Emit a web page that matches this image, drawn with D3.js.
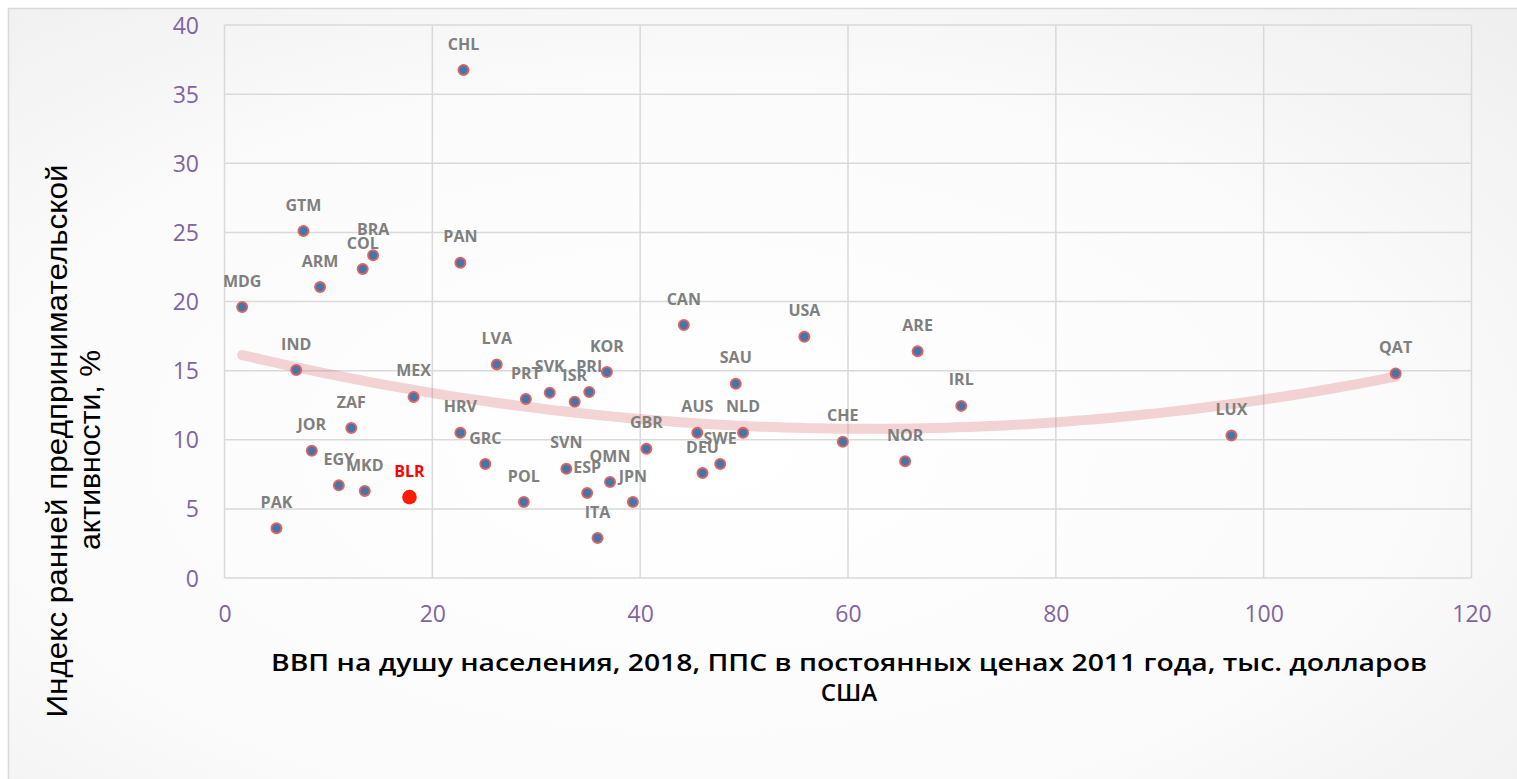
<!DOCTYPE html>
<html>
<head>
<meta charset="utf-8">
<script src="https://cdn.jsdelivr.net/npm/d3@7"></script>
<style>
  html, body { margin: 0; padding: 0; background: #ffffff; }
  svg { display: block; }
</style>
</head>
<body>
<svg id="chart" width="1517" height="779"></svg>
<script>
// ---- data ----
const countries = ["MDG","PAK","IND","GTM","JOR","ARM","EGY","ZAF","COL","MKD","BRA","BLR","MEX","HRV","PAN","CHL","GRC","LVA","POL","PRT","SVK","SVN","ISR","ESP","PRI","ITA","KOR","OMN","JPN","GBR","CAN","AUS","DEU","SWE","SAU","NLD","USA","CHE","NOR","ARE","IRL","LUX","QAT"];
const gdp = [1.7,5.0,6.9,7.6,8.4,9.2,11.0,12.2,13.3,13.5,14.3,17.8,18.2,22.7,22.7,23.0,25.1,26.2,28.8,29.0,31.3,32.9,33.7,34.9,35.1,35.9,36.8,37.1,39.3,40.6,44.2,45.5,46.0,47.7,49.2,49.9,55.8,59.5,65.5,66.7,70.9,96.9,112.7];
const tea = [19.6,3.6,15.05,25.1,9.2,21.05,6.7,10.85,22.35,6.3,23.35,5.85,13.1,10.5,22.8,36.75,8.25,15.45,5.5,12.95,13.4,7.9,12.75,6.15,13.45,2.9,14.9,6.95,5.5,9.35,18.3,10.5,7.6,8.25,14.05,10.5,17.45,9.85,8.45,16.4,12.45,10.3,14.8];
const highlight = "BLR";
const xTicks = [0,20,40,60,80,100,120];
const yTicks = [0,5,10,15,20,25,30,35,40];
const xTitleLines = ["ВВП на душу населения, 2018, ППС в постоянных ценах 2011 года, тыс. долларов", "США"];
const yTitleLines = ["Индекс ранней предпринимательской", "активности, %"];

// ---- layout ----
const svg = d3.select("#chart");
const plot = {left: 224.5, right: 1471.5, top: 25, bottom: 578};
const x = d3.scaleLinear().domain([0,120]).range([plot.left, plot.right]);
const y = d3.scaleLinear().domain([0,40]).range([plot.bottom, plot.top]);

const defs = svg.append("defs");
const rg = defs.append("radialGradient").attr("id","bg").attr("cx","45%").attr("cy","55%").attr("r","75%");
rg.append("stop").attr("offset","0%").attr("stop-color","#ffffff");
rg.append("stop").attr("offset","60%").attr("stop-color","#fbfbfb");
rg.append("stop").attr("offset","100%").attr("stop-color","#efefef");

svg.append("rect").attr("x",8.5).attr("y",8.5).attr("width",1530).attr("height",800)
  .attr("fill","url(#bg)").attr("stroke","#d9d9d9").attr("stroke-width",1.5);

// gridlines
const grid = svg.append("g");
grid.selectAll(".gy").data(yTicks).join("line")
  .attr("x1",plot.left).attr("x2",plot.right)
  .attr("y1",d=>y(d)).attr("y2",d=>y(d))
  .attr("stroke","#d9d9d9").attr("stroke-width",1.5);
grid.selectAll(".gx").data(xTicks).join("line")
  .attr("x1",d=>x(d)).attr("x2",d=>x(d))
  .attr("y1",plot.top).attr("y2",plot.bottom)
  .attr("stroke","#d9d9d9").attr("stroke-width",1.5);

// axes (labels only)
const yAxis = d3.axisLeft(y).tickValues(yTicks).tickSize(0).tickPadding(0);
const gy = svg.append("g").attr("transform",`translate(199,0)`).call(yAxis);
gy.select(".domain").remove();
gy.selectAll("text").attr("font-family","'Open Sans', sans-serif").attr("font-size",23)
  .attr("fill","#8064a2").attr("dy","0.35em").attr("x",0);

const xAxis = d3.axisBottom(x).tickValues(xTicks).tickSize(0).tickPadding(0);
const gx = svg.append("g").attr("transform",`translate(0,614)`).call(xAxis);
gx.select(".domain").remove();
gx.selectAll("text").attr("font-family","'Open Sans', sans-serif").attr("font-size",23)
  .attr("fill","#8064a2").attr("dy","0.35em").attr("y",0);

// quadratic trend (least squares)
function polyfit2(xs, ys){
  let S=[0,0,0,0,0], T=[0,0,0];
  xs.forEach((xv,i)=>{ let p=1; for(let k=0;k<5;k++){S[k]+=p; if(k<3) T[k]+=p*ys[i]; p*=xv;} });
  const A=[[S[0],S[1],S[2],T[0]],[S[1],S[2],S[3],T[1]],[S[2],S[3],S[4],T[2]]];
  for(let i=0;i<3;i++){ for(let j=i+1;j<3;j++){ const f=A[j][i]/A[i][i]; for(let k=i;k<4;k++) A[j][k]-=f*A[i][k]; } }
  const c=[0,0,0];
  for(let i=2;i>=0;i--){ let s=A[i][3]; for(let k=i+1;k<3;k++) s-=A[i][k]*c[k]; c[i]=s/A[i][i]; }
  return c;
}
const coef = polyfit2(gdp, tea);
const xmin = d3.min(gdp), xmax = d3.max(gdp);
const trend = d3.range(0,101).map(i=>{ const xv = xmin + (xmax-xmin)*i/100; return [xv, coef[0]+coef[1]*xv+coef[2]*xv*xv]; });
svg.append("path").datum(trend)
  .attr("d", d3.line().x(d=>x(d[0])).y(d=>y(d[1])).curve(d3.curveLinear))
  .attr("fill","none").attr("stroke","rgb(215,100,100)").attr("stroke-opacity",0.28)
  .attr("stroke-width",10).attr("stroke-linecap","round").attr("stroke-linejoin","round");

// points
const pts = countries.map((c,i)=>({c, gx: gdp[i], ty: tea[i]}));
const gp = svg.append("g");
gp.selectAll("circle").data(pts).join("circle")
  .attr("cx",d=>x(d.gx)).attr("cy",d=>y(d.ty))
  .attr("r",d=>d.c===highlight?7.3:5.1)
  .attr("fill",d=>d.c===highlight?"#ff1a00":"#4a74a8")
  .attr("stroke",d=>d.c===highlight?"none":"#e0655f")
  .attr("stroke-width",1.8);

// labels
gp.selectAll("text").data(pts).join("text")
  .attr("x",d=>x(d.gx)).attr("y",d=>y(d.ty)-26)
  .attr("dy","0.35em").attr("text-anchor","middle")
  .attr("font-family","'Open Sans', sans-serif").attr("font-weight",700).attr("font-size",16)
  .attr("fill",d=>d.c===highlight?"#ff0000":"#7f7f7f")
  .text(d=>d.c);

// x title
const xt = svg.append("g").attr("font-family","'Open Sans', sans-serif").attr("font-weight",600)
  .attr("font-size",24).attr("fill","#000").attr("text-anchor","middle");
xt.append("text").attr("x",849).attr("y",663).attr("dy","0.35em").text(xTitleLines[0])
  .attr("textLength",1156).attr("lengthAdjust","spacingAndGlyphs");
xt.append("text").attr("x",849).attr("y",693).attr("dy","0.35em").text(xTitleLines[1]);

// y title
const yt = svg.append("g").attr("transform","rotate(-90)")
  .attr("font-family","'Liberation Sans', Arial, sans-serif").attr("font-size",30)
  .attr("fill","#000").attr("text-anchor","middle");
yt.append("text").attr("x",-441).attr("y",67).text(yTitleLines[0])
  .attr("textLength",553).attr("lengthAdjust","spacingAndGlyphs");
yt.append("text").attr("x",-450).attr("y",100).text(yTitleLines[1])
  .attr("textLength",200).attr("lengthAdjust","spacingAndGlyphs");
</script>
</body>
</html>
